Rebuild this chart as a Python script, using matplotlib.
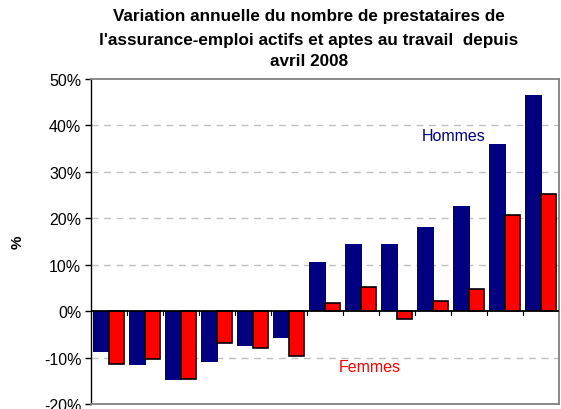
import matplotlib
matplotlib.use("Agg")
import matplotlib.pyplot as plt
import numpy as np

plt.rcParams['font.family'] = ['Liberation Sans', 'DejaVu Sans']

periods = list(range(1, 14))
hommes = [-8.9, -11.6, -14.8, -10.9, -7.4, -5.8, 10.6, 14.5, 14.5, 18.2, 22.7, 35.9, 46.5]
femmes = [-11.4, -10.4, -14.6, -6.9, -7.9, -9.7, 1.7, 5.2, -1.7, 2.1, 4.8, 20.7, 25.3]
yticks = [-20, -10, 0, 10, 20, 30, 40, 50]
ytick_labels = ['-20%', '-10%', '0%', '10%', '20%', '30%', '40%', '50%']
title_lines = ["Variation annuelle du nombre de prestataires de",
               "l'assurance-emploi actifs et aptes au travail  depuis",
               "avril 2008"]

W, H = 561, 410
fig = plt.figure(figsize=(W / 100, H / 100), dpi=100)
ax = fig.add_axes([91 / W, 1 - 405 / H, (559 - 91) / W, (405 - 80) / H])

x = np.arange(len(periods))
ax.bar(x - 0.21, hommes, width=0.47, color='#000080', zorder=2)
ax.bar(x + 0.21, femmes, width=0.42, color='#ff0000', edgecolor='black',
       linewidth=1.2, zorder=3)

ax.set_xlim(-0.5, len(periods) - 0.5)
ax.set_ylim(-20, 50)
ax.set_yticks(yticks)
ax.set_yticklabels(ytick_labels, fontsize=11.5)
ax.set_xticks([])
for yv in [-10, 10, 20, 30, 40]:
    ax.axhline(yv, color='#c0c0c0', linewidth=1, linestyle=(0, (5, 4)), zorder=1)
ax.axhline(0, color='black', linewidth=1.3, zorder=4)
for xv in np.arange(0.5, len(periods) - 0.5, 1):
    ax.plot([xv, xv], [0, -0.9], color='black', linewidth=0.8, zorder=4, clip_on=False)

for s in ['top', 'right', 'bottom']:
    ax.spines[s].set_color('#808080')
    ax.spines[s].set_linewidth(1.3)
ax.spines['left'].set_color('black')
ax.spines['left'].set_linewidth(1.0)
ax.tick_params(axis='y', length=4, width=1, color='black', pad=3)

ax.set_ylabel('%', fontsize=11, fontweight='bold', labelpad=14)

ax.text(8.7, 37.8, 'Hommes', color='#000080', fontsize=11.5, ha='left', va='center')
ax.text(6.38, -11.9, 'Femmes', color='#ff0000', fontsize=11.5, ha='left', va='center')

for ty, line in zip([17, 40, 62], title_lines):
    fig.text(309 / W, 1 - ty / H, line, ha='center', va='center', fontsize=12.3,
             fontweight='bold')

fig.savefig('out.png', dpi=100)
